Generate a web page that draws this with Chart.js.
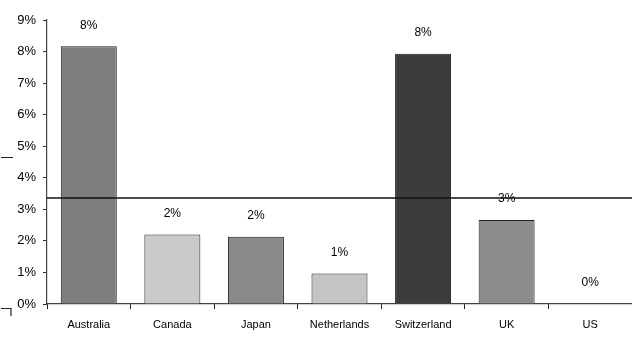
<!DOCTYPE html>
<html>
<head>
<meta charset="utf-8">
<script src="https://cdn.jsdelivr.net/npm/chart.js@4/dist/chart.umd.min.js"></script>
<style>
  html, body { margin: 0; padding: 0; background: #fff; }
  canvas { display: block; }
</style>
</head>
<body>
<canvas id="c" width="632" height="338"></canvas>
<script>
// Country categories and their values (percent)
const countries = ['Australia', 'Canada', 'Japan', 'Netherlands', 'Switzerland', 'UK', 'US'];
const values = [8.17, 2.2, 2.13, 0.97, 7.93, 2.66, 0];
// Reference level drawn across the whole plot (percent)
const referenceLevel = 3.36;
// Y axis ticks (percent)
const yTicks = [0, 1, 2, 3, 4, 5, 6, 7, 8, 9];
// Bar fill tones per country
const barFills = ['#7e7e7e', '#cacaca', '#8a8a8a', '#c4c4c4', '#3c3c3c', '#8c8c8c', '#9a9a9a'];

const textColor = '#000';
const fontFamily = '"Liberation Sans", Arial, sans-serif';

// Value labels above each bar, rounded to whole percent
const valueLabels = {
  id: 'valueLabels',
  afterDatasetsDraw(chart) {
    const ctx = chart.ctx;
    const meta = chart.getDatasetMeta(0);
    ctx.save();
    ctx.fillStyle = textColor;
    ctx.font = '12px ' + fontFamily;
    ctx.textAlign = 'center';
    ctx.textBaseline = 'middle';
    meta.data.forEach((bar, i) => {
      ctx.fillText(Math.round(values[i]) + '%', bar.x, bar.y - 21);
    });
    ctx.restore();
  }
};

// Horizontal reference line across the plot
const referenceLine = {
  id: 'referenceLine',
  afterDraw(chart) {
    const ctx = chart.ctx;
    const y = chart.scales.y.getPixelForValue(referenceLevel);
    ctx.save();
    ctx.strokeStyle = '#111';
    ctx.lineWidth = 1.6;
    ctx.beginPath();
    ctx.moveTo(chart.chartArea.left, y);
    ctx.lineTo(chart.width, y);
    ctx.stroke();
    ctx.restore();
  }
};

// Small bracket marks along the left edge
const edgeMarks = {
  id: 'edgeMarks',
  afterDraw(chart) {
    const ctx = chart.ctx;
    ctx.save();
    ctx.strokeStyle = '#222';
    ctx.lineWidth = 1.2;
    ctx.beginPath();
    ctx.moveTo(1, 157.5);
    ctx.lineTo(13, 157.5);
    ctx.moveTo(1, 308.5);
    ctx.lineTo(11, 308.5);
    ctx.lineTo(11, 316);
    ctx.stroke();
    ctx.restore();
  }
};

new Chart(document.getElementById('c'), {
  type: 'bar',
  data: {
    labels: countries,
    datasets: [{
      data: values,
      backgroundColor: barFills,
      borderColor: '#222',
      borderWidth: 1,
      barPercentage: 0.67,
      categoryPercentage: 1.0
    }]
  },
  options: {
    responsive: false,
    animation: false,
    devicePixelRatio: 1,
    layout: { padding: { top: 20, right: 0, bottom: 0, left: 0 } },
    plugins: {
      legend: { display: false },
      tooltip: { enabled: false }
    },
    scales: {
      x: {
        afterFit(scale) { scale.height = 34; },
        grid: {
          display: true,
          offset: true,
          drawOnChartArea: false,
          drawTicks: true,
          tickLength: 5,
          color: '#222'
        },
        border: { display: true, color: '#444', width: 1.2 },
        ticks: {
          color: textColor,
          font: { size: 11, family: fontFamily },
          padding: 9,
          maxRotation: 0,
          autoSkip: false
        }
      },
      y: {
        min: 0,
        max: 9,
        afterFit(scale) { scale.width = 47; },
        afterBuildTicks(scale) { scale.ticks = yTicks.map(v => ({ value: v })); },
        grid: {
          display: true,
          drawOnChartArea: false,
          drawTicks: true,
          tickLength: 4,
          color: '#333'
        },
        border: { display: true, color: '#444', width: 1.2 },
        ticks: {
          color: textColor,
          font: { size: 13, family: fontFamily },
          padding: 7,
          autoSkip: false,
          callback: v => v + '%'
        }
      }
    }
  },
  plugins: [valueLabels, referenceLine, edgeMarks]
});
</script>
</body>
</html>
